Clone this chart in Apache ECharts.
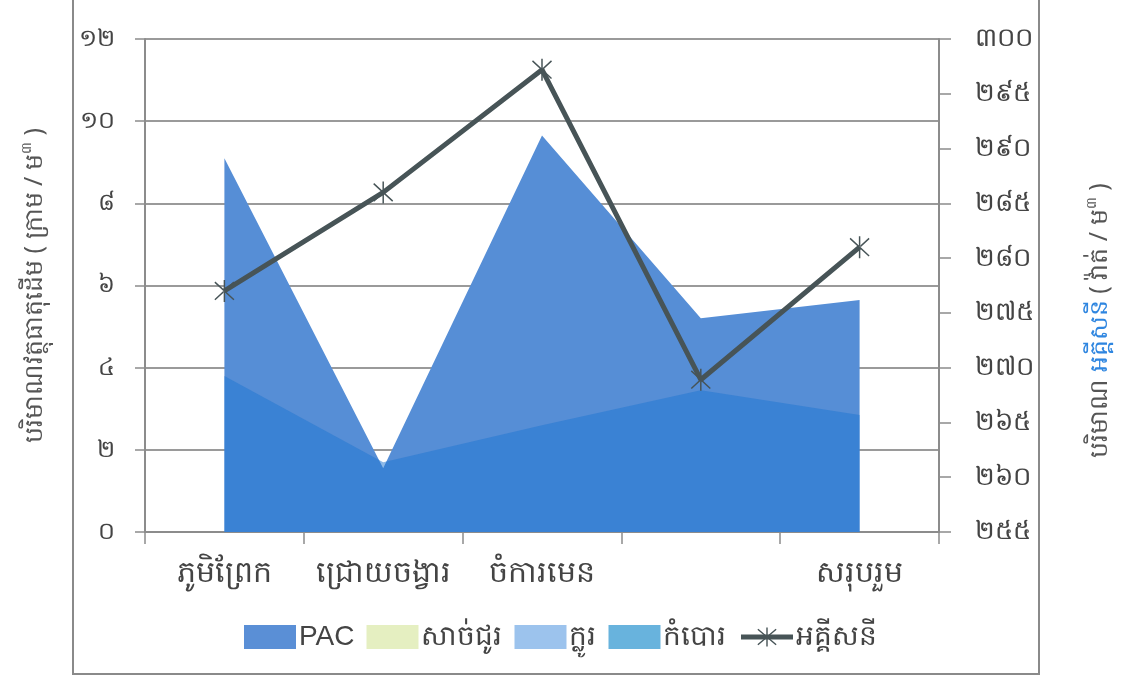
<!DOCTYPE html>
<html>
<head>
<meta charset="utf-8">
<script src="https://cdn.jsdelivr.net/npm/echarts@6/dist/echarts.min.js"></script>
<style>
  html, body { margin: 0; padding: 0; background: #fff; }
  #main { width: 1121px; height: 675px; }
</style>
</head>
<body>
<div id="main"></div>
<script>
const categories = ['ភូមិព្រែក', 'ជ្រោយចង្វារ', 'ចំការមេន', '', 'សរុបរួម'];
const pacValues = [9.1, 1.55, 9.65, 5.2, 5.65];
const sourValues = [];
const chlorValues = [3.8, 1.7, 2.6, 3.45, 2.85];
const limeValues = [];
const powerValues = [277.0, 286.0, 297.2, 268.9, 281.0];

const leftTicks = { min: 0, max: 12, interval: 2 };
const rightTicks = { min: 255, max: 300, interval: 5 };

const KHMER_DIGITS = ['០', '១', '២', '៣', '៤', '៥', '៦', '៧', '៨', '៩'];
const toKhmer = v => String(v).replace(/[0-9]/g, d => KHMER_DIGITS[+d]);

const FONT = "'Noto Sans', 'DejaVu Sans', sans-serif";
const TEXT = '#444';
const AXIS = '#8c8c8c';

// asterisk marker: vertical bar + two diagonals
const STAR = 'path://M9.3 0L10.7 0L10.7 20L9.3 20Z' +
  'M0.54 2.52L1.46 1.48L19.46 17.48L18.54 18.52Z' +
  'M19.46 2.52L18.54 1.48L0.54 17.48L1.46 18.52Z';

const chart = echarts.init(document.getElementById('main'), null, { renderer: 'canvas' });

chart.setOption({
  animation: false,
  backgroundColor: '#fff',
  textStyle: { fontFamily: FONT },
  grid: { left: 145, right: 182, top: 39, bottom: 143 },
  graphic: [{
    type: 'rect',
    shape: { x: 73, y: -10, width: 966, height: 684 },
    style: { fill: 'none', stroke: '#8a8a8a', lineWidth: 2 },
    silent: true
  }],
  legend: {
    top: 618,
    left: 'center',
    itemWidth: 52,
    itemHeight: 24,
    itemGap: 12,
    textStyle: { fontSize: 28, color: TEXT, fontFamily: "'Liberation Sans', " + FONT, padding: [0, 0, 6, -2] },
    data: [
      { name: 'PAC', icon: 'rect', itemStyle: { color: '#5a8fd6' } },
      { name: 'សាច់ជូរ', icon: 'rect', itemStyle: { color: '#e5efc1' } },
      { name: 'ក្លូរ', icon: 'rect', itemStyle: { color: '#9cc3ed' } },
      { name: 'កំបោរ', icon: 'rect', itemStyle: { color: '#68b3dd' } },
      { name: 'អគ្គីសនី', lineStyle: { width: 5, color: '#475457' } }
    ]
  },
  xAxis: {
    type: 'category',
    data: categories,
    boundaryGap: true,
    axisLine: { lineStyle: { color: AXIS, width: 2 } },
    axisTick: { show: true, interval: 0, length: 12, lineStyle: { color: AXIS, width: 1.5 } },
    axisLabel: { interval: 0, fontSize: 30, color: TEXT, margin: 26, fontFamily: FONT }
  },
  yAxis: [{
    type: 'value',
    min: leftTicks.min, max: leftTicks.max, interval: leftTicks.interval,
    position: 'left',
    name: '{t|បរិមាណវត្ថុធាតុដើម ( ក្រាម / ម}{s|៣}{t| )}',
    nameLocation: 'middle',
    nameGap: 95,
    nameRotate: 90,
    nameTextStyle: {
      rich: {
        t: { fontSize: 25, color: '#555', fontFamily: FONT },
        s: { fontSize: 14, color: '#555', fontFamily: FONT, padding: [0, 0, 16, 0] }
      }
    },
    axisLine: { show: true, lineStyle: { color: AXIS, width: 2 } },
    axisTick: { show: true, length: 10, lineStyle: { color: AXIS, width: 1.5 } },
    axisLabel: { fontSize: 24, color: TEXT, margin: 30, formatter: toKhmer, fontFamily: FONT },
    splitLine: { show: true, lineStyle: { color: '#9a9a9a', width: 2 } }
  }, {
    type: 'value',
    min: rightTicks.min, max: rightTicks.max, interval: rightTicks.interval,
    position: 'right',
    name: '{t|បរិមាណ }{b|អគ្គីសនី}{t| ( វ៉ាត់ / ម}{s|៣}{t| )}',
    nameLocation: 'middle',
    nameGap: 146,
    nameRotate: 90,
    nameTextStyle: {
      padding: [0, 70, 0, 0],
      rich: {
        t: { fontSize: 25, color: '#555', fontFamily: FONT },
        b: { fontSize: 25, color: '#2f86e0', fontFamily: FONT },
        s: { fontSize: 14, color: '#555', fontFamily: FONT, padding: [0, 0, 16, 0] }
      }
    },
    axisLine: { show: true, lineStyle: { color: AXIS, width: 2 } },
    axisTick: { show: true, length: 12, lineStyle: { color: AXIS, width: 1.5 } },
    axisLabel: { fontSize: 26, color: TEXT, margin: 36, formatter: toKhmer, fontFamily: FONT },
    splitLine: { show: false }
  }],
  series: [{
    name: 'PAC',
    type: 'line',
    data: pacValues,
    showSymbol: false,
    lineStyle: { width: 0 },
    itemStyle: { color: '#5a8fd6' },
    areaStyle: { color: '#568ed6', opacity: 1 },
    z: 2
  }, {
    name: 'សាច់ជូរ',
    type: 'line',
    data: sourValues,
    showSymbol: false,
    lineStyle: { width: 0 },
    itemStyle: { color: '#e5efc1' },
    areaStyle: { color: '#e5efc1' },
    z: 2
  }, {
    name: 'ក្លូរ',
    type: 'line',
    data: chlorValues,
    showSymbol: false,
    lineStyle: { width: 0 },
    itemStyle: { color: '#9cc3ed' },
    areaStyle: { color: 'rgba(30,118,210,0.5)', opacity: 1 },
    z: 3
  }, {
    name: 'កំបោរ',
    type: 'line',
    data: limeValues,
    showSymbol: false,
    lineStyle: { width: 0 },
    itemStyle: { color: '#68b3dd' },
    areaStyle: { color: '#68b3dd' },
    z: 3
  }, {
    name: 'អគ្គីសនី',
    type: 'line',
    yAxisIndex: 1,
    data: powerValues,
    symbol: STAR,
    symbolSize: [20, 22],
    showAllSymbol: true,
    lineStyle: { color: '#475457', width: 5 },
    itemStyle: { color: '#475457' },
    z: 5
  }]
});
</script>
</body>
</html>
